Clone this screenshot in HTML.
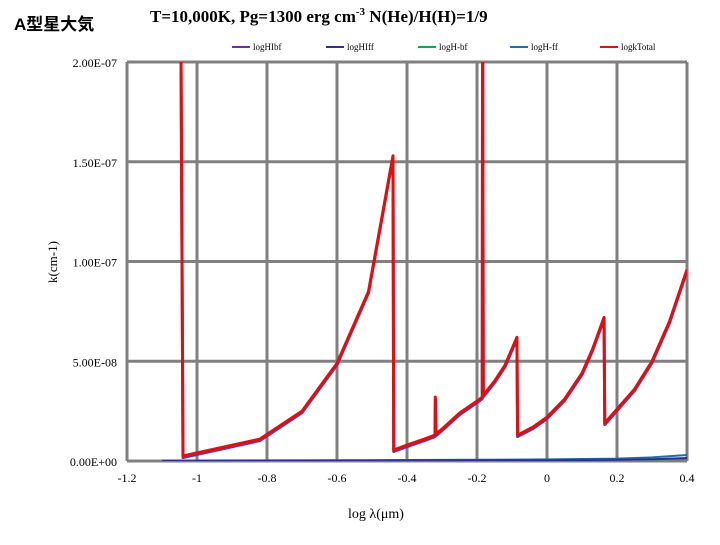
<!DOCTYPE html>
<html><head><meta charset="utf-8"><style>
body{margin:0;background:#fff;}
svg text{font-family:"Liberation Serif",serif;}
</style></head><body>
<svg id="chart" width="720" height="540" xmlns="http://www.w3.org/2000/svg">
<text x="14" y="30" font-size="17" font-weight="bold" style="font-family:'Liberation Sans','Noto Sans CJK JP',sans-serif">A型星大気</text>
<text x="150" y="22" font-size="17" font-weight="bold">T=10,000K, Pg=1300 erg cm<tspan font-size="11" dy="-7">-3</tspan><tspan dy="7"> N(He)/H(H)=1/9</tspan></text>
<g id="grid"></g>
<g id="series"></g>
<g id="legend"></g>
<text x="0" y="0" font-size="13" transform="translate(57,262) rotate(-90)" text-anchor="middle">k(cm-1)</text>
<text x="376" y="518" font-size="14" text-anchor="middle">log λ(μm)</text>
</svg>
<script>
const xTicks=[-1.2,-1,-0.8,-0.6,-0.4,-0.2,0,0.2,0.4];
const yTicks=[0,5e-8,1e-7,1.5e-7,2e-7];
const yTickLabels=["0.00E+00","5.00E-08","1.00E-07","1.50E-07","2.00E-07"];
const totalX=[-1.047,-1.04,-0.82,-0.7,-0.6,-0.51,-0.44,-0.438,-0.4,-0.35,-0.32,-0.319,-0.317,-0.3,-0.25,-0.2,-0.185,-0.184,-0.182,-0.15,-0.12,-0.086,-0.084,-0.04,0,0.05,0.1,0.13,0.163,0.165,0.2,0.25,0.3,0.35,0.4];
const totalY=[25,0.25,1.1,2.5,4.9,8.5,15.3,0.55,0.8,1.1,1.3,3.2,1.35,1.6,2.4,3.0,3.2,25,3.3,4.0,4.8,6.2,1.3,1.7,2.2,3.1,4.4,5.6,7.2,1.9,2.6,3.6,5.0,7.0,9.6];
const hffX=[-1.1,-0.4,0,0.2,0.3,0.4];
const hffY=[0.02,0.05,0.08,0.12,0.18,0.3];
const hbfX=[-1.1,-0.4,0,0.2,0.4];
const hbfY=[0.01,0.03,0.05,0.07,0.1];
const names=["logHIbf","logHIff","logH-bf","logH-ff","logkTotal"];
const colors=["#7030a0","#2e3192","#00b050","#1f6fb0","#e01010"];
const X=v=>127+(v+1.2)*350;
const Yp=v=>461-v/2e-7*399;
const ns="http://www.w3.org/2000/svg", svg=document.getElementById('chart');
const grid=document.getElementById('grid'), ser=document.getElementById('series'), leg=document.getElementById('legend');
function mk(t,a,p){const e=document.createElementNS(ns,t);for(const k in a)e.setAttribute(k,a[k]);p.appendChild(e);return e;}
xTicks.forEach((t,i)=>{
 const l=mk('line',{x1:X(t),x2:X(t),y1:62,y2:461,stroke:'#808080','stroke-width':3},grid);
 
 
 const tx=mk('text',{x:X(t),y:482,'font-size':12,'text-anchor':'middle'},grid);tx.textContent=t;
 
 
});
yTicks.forEach((t,i)=>{
 const l=mk('line',{x1:127,x2:687,y1:Yp(t),y2:Yp(t),stroke:'#808080','stroke-width':3},grid);
 
 
 const tx=mk('text',{x:117,y:Yp(t)+5,'font-size':12,'text-anchor':'end'},grid);tx.textContent=yTickLabels[i];
 
 
});
const clip=mk('clipPath',{id:'pc'},svg);mk('rect',{x:127,y:62,width:560,height:399},clip);
function line(xs,ys,c,w,name,off){
 const p=mk('polyline',{points:xs.map((x,i)=>X(x)+','+(Yp(ys[i]*1e-8)+off)).join(' '),fill:'none',stroke:c,'stroke-width':w,'clip-path':'url(#pc)','stroke-linejoin':'round'},ser);
 
 
}
line(totalX,totalY,colors[0],3,'series-loghibf',1.5);
line(hbfX,hbfY,colors[2],2,'series-logh-bf',0);
line(hffX,hffY,colors[3],2,'series-logh-ff',0);
line(hffX,hffY.map(v=>v*0.5),colors[1],2,'series-loghiff',0);
line(totalX,totalY,colors[4],3,'series-logktotal',0);
const lx=[232,326,418,510,600];
names.forEach((n,i)=>{
 const l=mk('line',{x1:lx[i],x2:lx[i]+18,y1:47,y2:47,stroke:colors[i],'stroke-width':2},leg);
 
 
 const t=mk('text',{x:lx[i]+21,y:50,'font-size':9},leg);t.textContent=n;
 
 
});
</script>
</body></html>
